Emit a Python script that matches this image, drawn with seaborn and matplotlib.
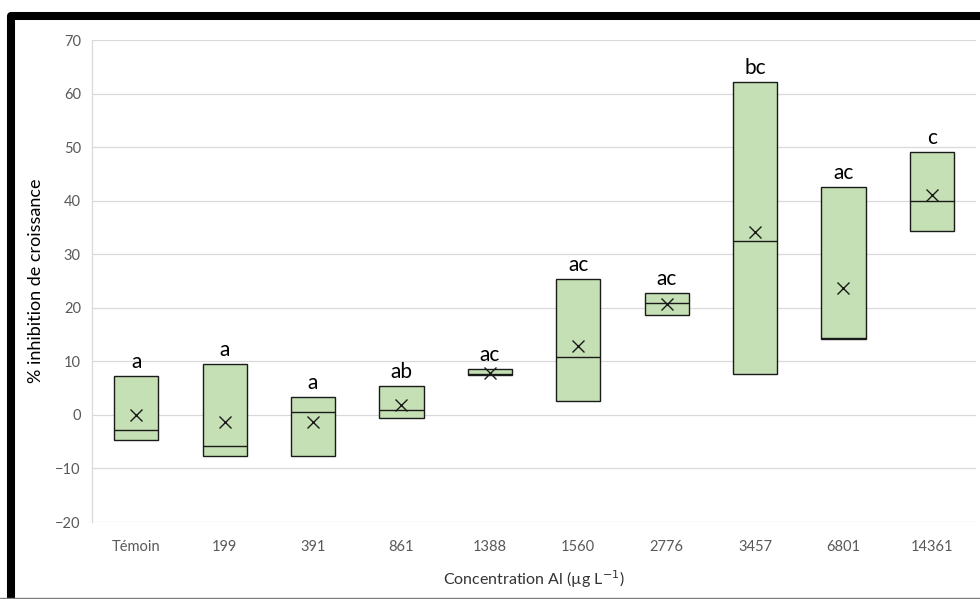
import matplotlib
matplotlib.use("Agg")
import matplotlib.pyplot as plt
from matplotlib.lines import Line2D
import pandas as pd
import seaborn as sns
import numpy as np

# concentrations (x categories)
concentrations = ['Témoin', '199', '391', '861', '1388', '1560', '2776', '3457', '6801', '14361']
# 3 replicates per concentration (low / middle / high)
rep_low = [-4.6, -7.7, -7.7, -0.5, 7.4, 2.6, 18.6, 7.7, 14.1, 34.4]
rep_mid = [-2.8, -5.8, 0.45, 0.9, 7.7, 10.8, 20.8, 32.5, 14.3, 39.9]
rep_high = [7.3, 9.5, 3.4, 5.4, 8.6, 25.3, 22.7, 62.2, 42.5, 49.1]
# letters from the statistical test
letters = ['a', 'a', 'a', 'ab', 'ac', 'ac', 'ac', 'bc', 'ac', 'c']

# long format table
df = pd.DataFrame({
    'conc': concentrations * 3,
    'value': rep_low + rep_mid + rep_high,
})

sns.set_style('white')
plt.rcParams['font.family'] = ['Lato', 'DejaVu Sans']

fig = plt.figure(figsize=(9.8, 5.99), dpi=100)
ax = fig.add_axes([92 / 980, 1 - 522 / 599, 884 / 980, 482 / 599])

# boxes go from the lowest to the highest replicate
lows = df.groupby('conc', sort=False)['value'].min().reindex(concentrations).values
meds = df.groupby('conc', sort=False)['value'].median().reindex(concentrations).values
sns.barplot(data=df, x='conc', y='value', order=concentrations,
            estimator=lambda v: v.max() - v.min(), errorbar=None,
            bottom=lows, width=0.5, color='#c5e0b4', saturation=1,
            edgecolor='#1a1a1a', linewidth=1.0, ax=ax, zorder=3)

# median line inside each box
xs = np.arange(len(concentrations))
ax.hlines(meds, xs - 0.25, xs + 0.25, color='#1a1a1a', lw=1.0, zorder=4)

# mean marker
sns.pointplot(data=df, x='conc', y='value', order=concentrations,
              estimator='mean', errorbar=None, linestyle='none',
              marker='x', markersize=8, markeredgewidth=1.0,
              color='#1a1a1a', ax=ax, zorder=5)

# letters above the boxes
highs = df.groupby('conc', sort=False)['value'].max().reindex(concentrations).values
for i, (h, lab) in enumerate(zip(highs, letters)):
    ax.text(i, h + 1.5, lab, ha='center', va='baseline', fontsize=15, color='black')

ax.set_xlim(-0.5, len(concentrations) - 0.5)
ax.set_ylim(-20, 70)
ax.set_yticks(range(-20, 71, 10))
ax.yaxis.grid(True, color='#d9d9d9', lw=0.9, zorder=0)
ax.set_axisbelow(True)
for s in ['top', 'right', 'bottom']:
    ax.spines[s].set_visible(False)
ax.spines['left'].set_color('#d9d9d9')
ax.spines['left'].set_linewidth(0.9)
ax.tick_params(axis='both', length=0, labelsize=10.5, labelcolor='#595959')
ax.tick_params(axis='y', pad=8)
ax.tick_params(axis='x', pad=13)

ax.set_xlabel('Concentration Al (µg L$^{-1}$)', fontsize=11.5, color='#333333', labelpad=10)
ax.set_ylabel('% inhibition de croissance', fontsize=13, color='black', labelpad=8)

# outer frame of the screenshot (thick black on left/top, thin gray at bottom)
fig.add_artist(Line2D([11 / 980, 11 / 980, 1.01], [-0.01, 1 - 16 / 599, 1 - 16 / 599],
                      transform=fig.transFigure, color='black', lw=5.8,
                      solid_joinstyle='round'))
fig.add_artist(Line2D([0, 1], [1 / 599, 1 / 599], transform=fig.transFigure,
                      color='#7f7f7f', lw=1.0))

plt.savefig('out.png', dpi=100)
